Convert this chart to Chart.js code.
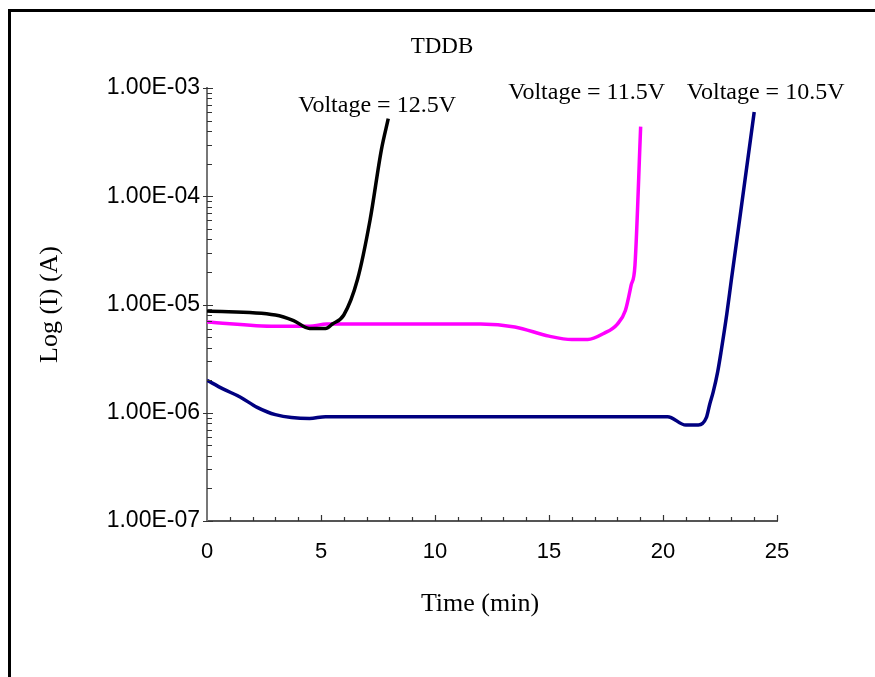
<!DOCTYPE html>
<html>
<head>
<meta charset="utf-8">
<script src="https://cdn.jsdelivr.net/npm/chart.js@4/dist/chart.umd.min.js"></script>
<style>
  html, body { margin: 0; padding: 0; background: #fff; }
  #chart { display: block; }
</style>
</head>
<body>
<canvas id="chart" width="875" height="677"></canvas>
<script>
// series data: [time (min), current (A)]
const v125Time = [0, 3, 3.8, 4.5, 5.2, 5.5, 6, 6.6, 7.15, 7.65, 7.95];
const v125Curr = [8.7e-6, 8.0e-6, 7.1e-6, 6.0e-6, 6.0e-6, 6.6e-6, 8.0e-6, 1.7e-5, 6.0e-5, 2.7e-4, 5.2e-4];

const v115Time = [0, 3, 4.5, 5.25, 12, 13.5, 15, 16, 16.7, 17.4, 18, 18.35, 18.6, 18.77, 19.02];
const v115Curr = [6.9e-6, 6.3e-6, 6.3e-6, 6.6e-6, 6.6e-6, 6.2e-6, 5.1e-6, 4.75e-6, 4.75e-6, 5.4e-6, 6.6e-6, 8.8e-6, 1.5e-5, 2.3e-5, 4.4e-4];

const v105Time = [0, 0.7, 1.45, 2.2, 3, 4.5, 5.2, 20.2, 21, 21.55, 21.9, 22.05, 22.2, 22.4, 22.55, 22.8, 23.0, 23.4, 24];
const v105Curr = [2.0e-6, 1.66e-6, 1.4e-6, 1.12e-6, 9.6e-7, 8.85e-7, 9.2e-7, 9.2e-7, 7.7e-7, 7.7e-7, 9.0e-7, 1.2e-6, 1.55e-6, 2.4e-6, 3.7e-6, 8.2e-6, 1.7e-5, 7.0e-5, 6.0e-4];

const seriesLabels = ['Voltage = 12.5V', 'Voltage = 11.5V', 'Voltage = 10.5V'];
const yTickValues = [1e-7, 1e-6, 1e-5, 1e-4, 1e-3];
const xTickValues = [0, 5, 10, 15, 20, 25];

const toPoints = (xs, ys) => xs.map((x, i) => ({ x, y: ys[i] }));

const serif = '"Liberation Serif", "Times New Roman", serif';
const sans = '"Liberation Sans", Arial, sans-serif';

function fmtExp(v) {
    const exp = Math.round(Math.log10(v));
    const sign = exp < 0 ? '-' : '+';
    const abs = Math.abs(exp);
    return '1.00E' + sign + (abs < 10 ? '0' : '') + abs;
}

// frame around the picture (left and top edges only are visible)
const framePlugin = {
    id: 'frame',
    beforeDraw(chart) {
        const ctx = chart.ctx;
        ctx.save();
        ctx.fillStyle = '#000';
        ctx.fillRect(8, 9, 875, 3);
        ctx.fillRect(8, 9, 3, 677);
        ctx.restore();
    }
};

// inside ticks (major + minor) on both axes
const ticksPlugin = {
    id: 'insideTicks',
    afterDraw(chart) {
        const { ctx, chartArea, scales } = chart;
        const xs = scales.x, ys = scales.y;
        ctx.save();
        ctx.strokeStyle = '#333';
        ctx.lineWidth = 1.2;
        ctx.beginPath();
        // y ticks
        for (let e = -7; e <= -3; e++) {
            const base = Math.pow(10, e);
            const py = Math.round(ys.getPixelForValue(base)) + 0.5;
            ctx.moveTo(chartArea.left - 4, py);
            ctx.lineTo(chartArea.left + 6, py);
            if (e === -3) break;
            for (let m = 2; m <= 9; m++) {
                const p = Math.round(ys.getPixelForValue(m * base)) + 0.5;
                ctx.moveTo(chartArea.left, p);
                ctx.lineTo(chartArea.left + 5, p);
            }
        }
        // x ticks
        for (let t = 1; t <= 25; t++) {
            const px = Math.round(xs.getPixelForValue(t)) + 0.5;
            const len = t % 5 === 0 ? 6 : 4;
            ctx.moveTo(px, chartArea.bottom);
            ctx.lineTo(px, chartArea.bottom - len);
        }
        ctx.stroke();
        ctx.restore();
    }
};

// chart title, x axis title and series annotations
const textPlugin = {
    id: 'texts',
    afterDraw(chart) {
        const { ctx, scales } = chart;
        ctx.save();
        ctx.fillStyle = '#000';
        ctx.textAlign = 'center';
        ctx.textBaseline = 'middle';
        ctx.font = '23px ' + serif;
        ctx.fillText('TDDB', 442, 47);
        ctx.font = '26px ' + serif;
        ctx.fillText('Time (min)', 480, 604);
        ctx.font = '24px ' + serif;
        const anchors = [[7.46, 6.9e-4], [16.65, 9.0e-4], [24.5, 9.0e-4]];
        anchors.forEach((a, i) => {
            ctx.fillText(seriesLabels[i], scales.x.getPixelForValue(a[0]), scales.y.getPixelForValue(a[1]));
        });
        ctx.restore();
    }
};

const lineStyle = { borderWidth: 3.5, pointRadius: 0, fill: false, tension: 0.3, cubicInterpolationMode: 'monotone' };

new Chart(document.getElementById('chart').getContext('2d'), {
    type: 'line',
    data: {
        datasets: [
            { label: seriesLabels[0], data: toPoints(v125Time, v125Curr), borderColor: '#000000', ...lineStyle },
            { label: seriesLabels[1], data: toPoints(v115Time, v115Curr), borderColor: '#ff00ff', ...lineStyle },
            { label: seriesLabels[2], data: toPoints(v105Time, v105Curr), borderColor: '#000080', ...lineStyle }
        ]
    },
    options: {
        responsive: false,
        animation: false,
        events: [],
        layout: { padding: { top: 88, right: 98, left: 0, bottom: 0 } },
        plugins: {
            legend: { display: false },
            tooltip: { enabled: false },
            title: { display: false }
        },
        scales: {
            x: {
                type: 'linear',
                min: 0,
                max: 25,
                afterBuildTicks: s => { s.ticks = xTickValues.map(v => ({ value: v })); },
                afterFit: s => { s.height = 156; },
                grid: { display: false, drawTicks: false },
                border: { display: true, color: '#555', width: 2 },
                ticks: {
                    color: '#000',
                    padding: 18,
                    maxRotation: 0,
                    autoSkip: false,
                    font: { family: sans, size: 22 }
                }
            },
            y: {
                type: 'logarithmic',
                min: 1e-7,
                max: 1e-3,
                afterBuildTicks: s => { s.ticks = yTickValues.map(v => ({ value: v })); },
                afterFit: s => { s.width = 207; },
                grid: { display: false, drawTicks: false },
                border: { display: true, color: '#777', width: 2 },
                ticks: {
                    color: '#000',
                    padding: 7,
                    autoSkip: false,
                    font: { family: sans, size: 23 },
                    callback: v => fmtExp(v)
                },
                title: {
                    display: true,
                    text: 'Log (I) (A)',
                    color: '#000',
                    font: { family: serif, size: 26 },
                    padding: { top: 35, bottom: 0 }
                }
            }
        }
    },
    plugins: [framePlugin, ticksPlugin, textPlugin]
});
</script>
</body>
</html>
